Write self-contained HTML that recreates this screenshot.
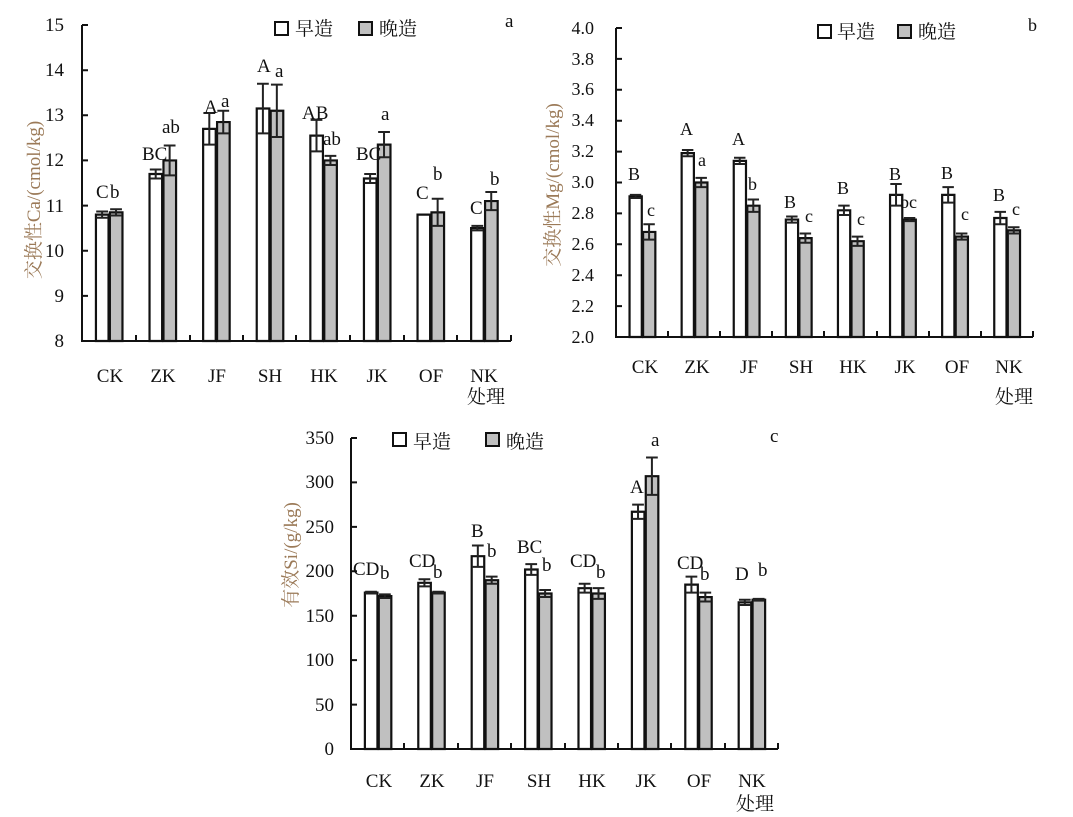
<!DOCTYPE html>
<html><head><meta charset="utf-8"><style>
body{margin:0;background:#fff}
svg{display:block}
text{font-family:"Liberation Serif","Noto Serif CJK SC",serif;fill:#111}
.t{font-size:19px}
.s{font-size:18px}
.yl{fill:#9b7a58;font-size:19px}
.ax{stroke:#111;stroke-width:2;fill:none}
.w{fill:#fff;stroke:#111;stroke-width:2.2}
.g{fill:#c0c0c0;stroke:#111;stroke-width:2.2}
.e{stroke:#222;stroke-width:2;fill:none}
</style></head><body>
<svg width="1073" height="817" viewBox="0 0 1073 817" xmlns="http://www.w3.org/2000/svg">
<!-- ===== Chart a ===== -->
<g transform="translate(82,341) scale(53.6,-45.14)">
<rect class="w" x="0.26" y="0" width="0.235" height="2.8" vector-effect="non-scaling-stroke"/>
<rect class="g" x="0.52" y="0" width="0.235" height="2.85" vector-effect="non-scaling-stroke"/>
<rect class="w" x="1.26" y="0" width="0.235" height="3.7" vector-effect="non-scaling-stroke"/>
<rect class="g" x="1.52" y="0" width="0.235" height="4.0" vector-effect="non-scaling-stroke"/>
<rect class="w" x="2.26" y="0" width="0.235" height="4.7" vector-effect="non-scaling-stroke"/>
<rect class="g" x="2.52" y="0" width="0.235" height="4.85" vector-effect="non-scaling-stroke"/>
<rect class="w" x="3.26" y="0" width="0.235" height="5.15" vector-effect="non-scaling-stroke"/>
<rect class="g" x="3.52" y="0" width="0.235" height="5.1" vector-effect="non-scaling-stroke"/>
<rect class="w" x="4.26" y="0" width="0.235" height="4.55" vector-effect="non-scaling-stroke"/>
<rect class="g" x="4.52" y="0" width="0.235" height="4.0" vector-effect="non-scaling-stroke"/>
<rect class="w" x="5.26" y="0" width="0.235" height="3.6" vector-effect="non-scaling-stroke"/>
<rect class="g" x="5.52" y="0" width="0.235" height="4.35" vector-effect="non-scaling-stroke"/>
<rect class="w" x="6.26" y="0" width="0.235" height="2.8" vector-effect="non-scaling-stroke"/>
<rect class="g" x="6.52" y="0" width="0.235" height="2.85" vector-effect="non-scaling-stroke"/>
<rect class="w" x="7.26" y="0" width="0.235" height="2.5" vector-effect="non-scaling-stroke"/>
<rect class="g" x="7.52" y="0" width="0.235" height="3.1" vector-effect="non-scaling-stroke"/>
<path class="e" vector-effect="non-scaling-stroke" d="
M.265,2.87H.485M.375,2.87V2.73M.265,2.73H.485
M.525,2.92H.745M.635,2.92V2.78M.525,2.78H.745
M1.265,3.8H1.485M1.375,3.8V3.6M1.265,3.6H1.485
M1.525,4.33H1.745M1.635,4.33V3.67M1.525,3.67H1.745
M2.265,5.05H2.485M2.375,5.05V4.35M2.265,4.35H2.485
M2.525,5.1H2.745M2.635,5.1V4.6M2.525,4.6H2.745
M3.265,5.7H3.485M3.375,5.7V4.6M3.265,4.6H3.485
M3.525,5.68H3.745M3.635,5.68V4.52M3.525,4.52H3.745
M4.265,4.9H4.485M4.375,4.9V4.2M4.265,4.2H4.485
M4.525,4.1H4.745M4.635,4.1V3.9M4.525,3.9H4.745
M5.265,3.7H5.485M5.375,3.7V3.5M5.265,3.5H5.485
M5.525,4.63H5.745M5.635,4.63V4.07M5.525,4.07H5.745
M6.525,3.15H6.745M6.635,3.15V2.55M6.525,2.55H6.745
M7.265,2.55H7.485M7.375,2.55V2.45M7.265,2.45H7.485
M7.525,3.3H7.745M7.635,3.3V2.9M7.525,2.9H7.745"/>
</g>
<path class="ax" d="M82,25V341H511M82,295.9H88M82,250.7H88M82,205.6H88M82,160.4H88M82,115.3H88M82,70.2H88M82,25H88M136,341V335M190,341V335M243,341V335M296,341V335M350,341V335M404,341V335M457,341V335M511,341V335"/>
<g class="t" text-anchor="end">
<text x="64" y="347">8</text><text x="64" y="302">9</text><text x="64" y="257">10</text><text x="64" y="212">11</text><text x="64" y="166">12</text><text x="64" y="121">13</text><text x="64" y="76">14</text><text x="64" y="31">15</text>
</g>
<g class="t" text-anchor="middle">
<text x="110" y="382">CK</text><text x="163" y="382">ZK</text><text x="217" y="382">JF</text><text x="270" y="382">SH</text><text x="324" y="382">HK</text><text x="377" y="382">JK</text><text x="431" y="382">OF</text><text x="484" y="382">NK</text>
<text x="486" y="403">处理</text>
</g>
<text class="yl" transform="translate(40,200) rotate(-90)" text-anchor="middle">交换性Ca/(cmol/kg)</text>
<g class="t">
<text x="96" y="198">C</text><text x="110" y="198">b</text>
<text x="142" y="160">BC</text><text x="162" y="133">ab</text>
<text x="204" y="113">A</text><text x="221" y="107">a</text>
<text x="257" y="72">A</text><text x="275" y="77">a</text>
<text x="302" y="119">AB</text><text x="323" y="145">ab</text>
<text x="356" y="160">BC</text><text x="381" y="120">a</text>
<text x="416" y="199">C</text><text x="433" y="180">b</text>
<text x="470" y="214">C</text><text x="490" y="185">b</text>
</g>
<rect x="275" y="22" width="13" height="13" fill="#fff" stroke="#111" stroke-width="2"/>
<text class="t" x="295" y="35">早造</text>
<rect x="359" y="22" width="13" height="13" fill="#c0c0c0" stroke="#111" stroke-width="2"/>
<text class="t" x="379" y="35">晚造</text>
<text class="t" x="505" y="27">a</text>

<!-- ===== Chart b ===== -->
<g transform="translate(616,337) scale(52.1,-154.5)">
<rect class="w" x="0.26" y="0" width="0.235" height="0.91" vector-effect="non-scaling-stroke"/>
<rect class="g" x="0.52" y="0" width="0.235" height="0.68" vector-effect="non-scaling-stroke"/>
<rect class="w" x="1.26" y="0" width="0.235" height="1.19" vector-effect="non-scaling-stroke"/>
<rect class="g" x="1.52" y="0" width="0.235" height="1.0" vector-effect="non-scaling-stroke"/>
<rect class="w" x="2.26" y="0" width="0.235" height="1.14" vector-effect="non-scaling-stroke"/>
<rect class="g" x="2.52" y="0" width="0.235" height="0.85" vector-effect="non-scaling-stroke"/>
<rect class="w" x="3.26" y="0" width="0.235" height="0.76" vector-effect="non-scaling-stroke"/>
<rect class="g" x="3.52" y="0" width="0.235" height="0.64" vector-effect="non-scaling-stroke"/>
<rect class="w" x="4.26" y="0" width="0.235" height="0.82" vector-effect="non-scaling-stroke"/>
<rect class="g" x="4.52" y="0" width="0.235" height="0.62" vector-effect="non-scaling-stroke"/>
<rect class="w" x="5.26" y="0" width="0.235" height="0.92" vector-effect="non-scaling-stroke"/>
<rect class="g" x="5.52" y="0" width="0.235" height="0.76" vector-effect="non-scaling-stroke"/>
<rect class="w" x="6.26" y="0" width="0.235" height="0.92" vector-effect="non-scaling-stroke"/>
<rect class="g" x="6.52" y="0" width="0.235" height="0.65" vector-effect="non-scaling-stroke"/>
<rect class="w" x="7.26" y="0" width="0.235" height="0.77" vector-effect="non-scaling-stroke"/>
<rect class="g" x="7.52" y="0" width="0.235" height="0.69" vector-effect="non-scaling-stroke"/>
<path class="e" vector-effect="non-scaling-stroke" d="
M.265,.92H.485M.375,.92V.90M.265,.90H.485
M.525,.73H.745M.635,.73V.63M.525,.63H.745
M1.265,1.21H1.485M1.375,1.21V1.17M1.265,1.17H1.485
M1.525,1.03H1.745M1.635,1.03V.97M1.525,.97H1.745
M2.265,1.16H2.485M2.375,1.16V1.12M2.265,1.12H2.485
M2.525,.89H2.745M2.635,.89V.81M2.525,.81H2.745
M3.265,.78H3.485M3.375,.78V.74M3.265,.74H3.485
M3.525,.67H3.745M3.635,.67V.61M3.525,.61H3.745
M4.265,.85H4.485M4.375,.85V.79M4.265,.79H4.485
M4.525,.65H4.745M4.635,.65V.59M4.525,.59H4.745
M5.265,.99H5.485M5.375,.99V.85M5.265,.85H5.485
M5.525,.77H5.745M5.635,.77V.75M5.525,.75H5.745
M6.265,.97H6.485M6.375,.97V.87M6.265,.87H6.485
M6.525,.67H6.745M6.635,.67V.63M6.525,.63H6.745
M7.265,.81H7.485M7.375,.81V.73M7.265,.73H7.485
M7.525,.71H7.745M7.635,.71V.67M7.525,.67H7.745"/>
</g>
<path class="ax" d="M616,28V337H1033M616,306.1H622M616,275.2H622M616,244.3H622M616,213.4H622M616,182.5H622M616,151.6H622M616,120.7H622M616,89.8H622M616,58.9H622M616,28H622M668,337V331M720,337V331M772,337V331M824,337V331M877,337V331M929,337V331M981,337V331M1033,337V331"/>
<g class="s" text-anchor="end">
<text x="594" y="343">2.0</text><text x="594" y="312">2.2</text><text x="594" y="281">2.4</text><text x="594" y="250">2.6</text><text x="594" y="219">2.8</text><text x="594" y="188">3.0</text><text x="594" y="157">3.2</text><text x="594" y="126">3.4</text><text x="594" y="95">3.6</text><text x="594" y="65">3.8</text><text x="594" y="34">4.0</text>
</g>
<g class="t" text-anchor="middle">
<text x="645" y="373">CK</text><text x="697" y="373">ZK</text><text x="749" y="373">JF</text><text x="801" y="373">SH</text><text x="853" y="373">HK</text><text x="905" y="373">JK</text><text x="957" y="373">OF</text><text x="1009" y="373">NK</text>
<text x="1014" y="403">处理</text>
</g>
<text class="yl" transform="translate(559,185) rotate(-90)" text-anchor="middle">交换性Mg/(cmol/kg)</text>
<g class="s">
<text x="628" y="180">B</text><text x="647" y="216">c</text>
<text x="680" y="135">A</text><text x="698" y="166">a</text>
<text x="732" y="145">A</text><text x="748" y="190">b</text>
<text x="784" y="208">B</text><text x="805" y="222">c</text>
<text x="837" y="194">B</text><text x="857" y="225">c</text>
<text x="889" y="180">B</text><text x="900" y="208">bc</text>
<text x="941" y="179">B</text><text x="961" y="220">c</text>
<text x="993" y="201">B</text><text x="1012" y="215">c</text>
</g>
<rect x="818" y="25" width="13" height="13" fill="#fff" stroke="#111" stroke-width="2"/>
<text class="t" x="837" y="38">早造</text>
<rect x="898" y="25" width="13" height="13" fill="#c0c0c0" stroke="#111" stroke-width="2"/>
<text class="t" x="918" y="38">晚造</text>
<text class="s" x="1028" y="31">b</text>

<!-- ===== Chart c ===== -->
<g transform="translate(351,749) scale(53.4,-0.8886)">
<rect class="w" x="0.26" y="0" width="0.235" height="176" vector-effect="non-scaling-stroke"/>
<rect class="g" x="0.52" y="0" width="0.235" height="172" vector-effect="non-scaling-stroke"/>
<rect class="w" x="1.26" y="0" width="0.235" height="187" vector-effect="non-scaling-stroke"/>
<rect class="g" x="1.52" y="0" width="0.235" height="176" vector-effect="non-scaling-stroke"/>
<rect class="w" x="2.26" y="0" width="0.235" height="217" vector-effect="non-scaling-stroke"/>
<rect class="g" x="2.52" y="0" width="0.235" height="190" vector-effect="non-scaling-stroke"/>
<rect class="w" x="3.26" y="0" width="0.235" height="202" vector-effect="non-scaling-stroke"/>
<rect class="g" x="3.52" y="0" width="0.235" height="175" vector-effect="non-scaling-stroke"/>
<rect class="w" x="4.26" y="0" width="0.235" height="181" vector-effect="non-scaling-stroke"/>
<rect class="g" x="4.52" y="0" width="0.235" height="175" vector-effect="non-scaling-stroke"/>
<rect class="w" x="5.26" y="0" width="0.235" height="267" vector-effect="non-scaling-stroke"/>
<rect class="g" x="5.52" y="0" width="0.235" height="307" vector-effect="non-scaling-stroke"/>
<rect class="w" x="6.26" y="0" width="0.235" height="185" vector-effect="non-scaling-stroke"/>
<rect class="g" x="6.52" y="0" width="0.235" height="171" vector-effect="non-scaling-stroke"/>
<rect class="w" x="7.26" y="0" width="0.235" height="165" vector-effect="non-scaling-stroke"/>
<rect class="g" x="7.52" y="0" width="0.235" height="168" vector-effect="non-scaling-stroke"/>
<path class="e" vector-effect="non-scaling-stroke" d="
M.265,177H.485M.375,177V175M.265,175H.485
M.525,174H.745M.635,174V170M.525,170H.745
M1.265,191H1.485M1.375,191V183M1.265,183H1.485
M1.525,177H1.745M1.635,177V175M1.525,175H1.745
M2.265,229H2.485M2.375,229V205M2.265,205H2.485
M2.525,194H2.745M2.635,194V186M2.525,186H2.745
M3.265,208H3.485M3.375,208V196M3.265,196H3.485
M3.525,179H3.745M3.635,179V171M3.525,171H3.745
M4.265,186H4.485M4.375,186V176M4.265,176H4.485
M4.525,181H4.745M4.635,181V169M4.525,169H4.745
M5.265,275H5.485M5.375,275V259M5.265,259H5.485
M5.525,328H5.745M5.635,328V286M5.525,286H5.745
M6.265,194H6.485M6.375,194V176M6.265,176H6.485
M6.525,176H6.745M6.635,176V166M6.525,166H6.745
M7.265,168H7.485M7.375,168V162M7.265,162H7.485
M7.525,169H7.745M7.635,169V167M7.525,167H7.745"/>
</g>
<path class="ax" d="M351,438V749H778M351,704.6H357M351,660.1H357M351,615.7H357M351,571.3H357M351,526.9H357M351,482.4H357M351,438H357M404,749V743M458,749V743M511,749V743M565,749V743M618,749V743M671,749V743M725,749V743M778,749V743"/>
<g class="t" text-anchor="end">
<text x="334" y="755">0</text><text x="334" y="711">50</text><text x="334" y="666">100</text><text x="334" y="622">150</text><text x="334" y="577">200</text><text x="334" y="533">250</text><text x="334" y="488">300</text><text x="334" y="444">350</text>
</g>
<g class="t" text-anchor="middle">
<text x="379" y="787">CK</text><text x="432" y="787">ZK</text><text x="485" y="787">JF</text><text x="539" y="787">SH</text><text x="592" y="787">HK</text><text x="646" y="787">JK</text><text x="699" y="787">OF</text><text x="752" y="787">NK</text>
<text x="755" y="810">处理</text>
</g>
<text class="yl" transform="translate(297,555) rotate(-90)" text-anchor="middle">有效Si/(g/kg)</text>
<g class="t">
<text x="353" y="575">CD</text><text x="380" y="579">b</text>
<text x="409" y="567">CD</text><text x="433" y="578">b</text>
<text x="471" y="537">B</text><text x="487" y="557">b</text>
<text x="517" y="553">BC</text><text x="542" y="571">b</text>
<text x="570" y="567">CD</text><text x="596" y="578">b</text>
<text x="630" y="493">A</text><text x="651" y="446">a</text>
<text x="677" y="569">CD</text><text x="700" y="580">b</text>
<text x="735" y="580">D</text><text x="758" y="576">b</text>
</g>
<rect x="393" y="433" width="13" height="13" fill="#fff" stroke="#111" stroke-width="2"/>
<text class="t" x="413" y="448">早造</text>
<rect x="486" y="433" width="13" height="13" fill="#c0c0c0" stroke="#111" stroke-width="2"/>
<text class="t" x="506" y="448">晚造</text>
<text class="t" x="770" y="442">c</text>
</svg>
</body></html>
